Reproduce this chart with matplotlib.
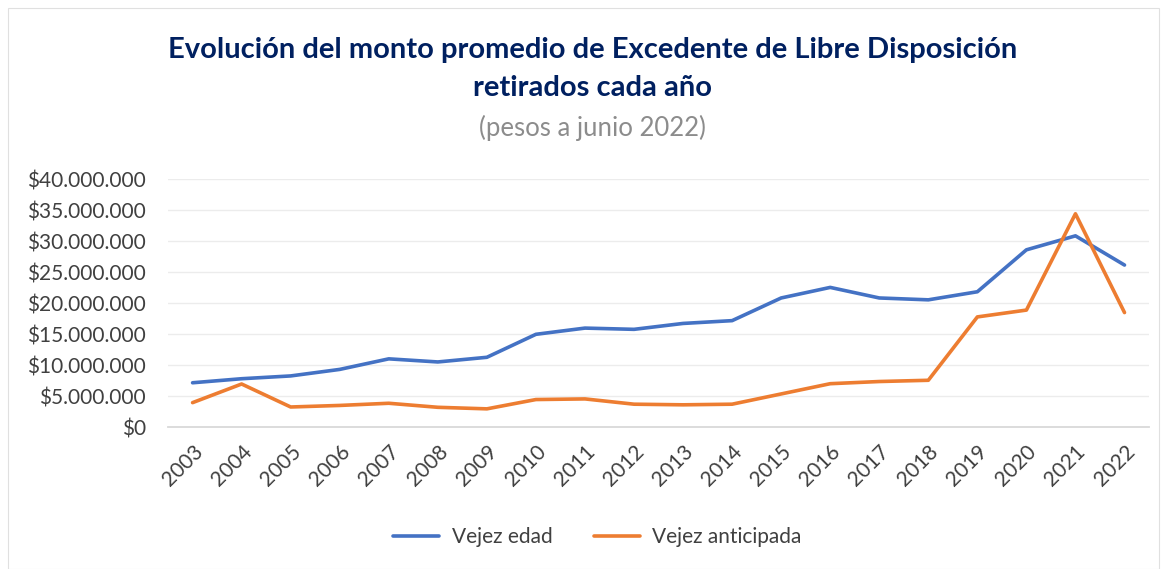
import numpy as np
import matplotlib.pyplot as plt
from matplotlib.ticker import FuncFormatter, MultipleLocator
from matplotlib.patches import Rectangle

plt.rcParams['font.family'] = ['Lato', 'DejaVu Sans']

# Data
years = ['2003', '2004', '2005', '2006', '2007', '2008', '2009', '2010', '2011', '2012',
         '2013', '2014', '2015', '2016', '2017', '2018', '2019', '2020', '2021', '2022']
vejez_edad = [7.2, 7.85, 8.3, 9.35, 11.05, 10.55, 11.3, 15.0, 16.0, 15.8,
              16.75, 17.2, 20.85, 22.55, 20.85, 20.55, 21.85, 28.6, 30.85, 26.15]
vejez_anticipada = [4.0, 7.0, 3.3, 3.55, 3.9, 3.25, 3.0, 4.5, 4.6, 3.75,
                    3.65, 3.75, 5.4, 7.05, 7.4, 7.6, 17.8, 18.9, 34.4, 18.5]
edad = np.array(vejez_edad) * 1e6
anticipada = np.array(vejez_anticipada) * 1e6

fig = plt.figure(figsize=(11.67, 5.69), dpi=100)
ax = fig.add_axes([0.144, 0.2487, 0.8406, 0.4367])

x = np.arange(len(years))
ax.plot(x, edad, color='#4472C4', lw=2.6, label='Vejez edad', solid_capstyle='round')
ax.plot(x, anticipada, color='#ED7D31', lw=2.6, label='Vejez anticipada', solid_capstyle='round')

ax.set_xlim(-0.5, len(years) - 0.5)
ax.set_ylim(0, 40e6)
ax.yaxis.set_major_locator(MultipleLocator(5e6))
ax.yaxis.set_major_formatter(FuncFormatter(lambda v, p: '$' + f'{v:,.0f}'.replace(',', '.')))
ax.set_xticks(x)
ax.set_xticklabels(years, rotation=45, ha='right', rotation_mode='anchor')

ax.grid(axis='y', color='#ececec', lw=1)
ax.set_axisbelow(True)
for s in ['top', 'right', 'left']:
    ax.spines[s].set_visible(False)
ax.spines['bottom'].set_color('#d9d9d9')
ax.spines['bottom'].set_linewidth(1.3)
ax.tick_params(axis='both', length=0, labelsize=15, colors='#404040')
ax.tick_params(axis='y', pad=16)
ax.tick_params(axis='x', pad=10)

# Titles
fig.text(0.508, 0.912, 'Evolución del monto promedio de Excedente de Libre Disposición',
         ha='center', va='center', fontsize=21, fontweight='bold', color='#002060')
fig.text(0.508, 0.845, 'retirados cada año',
         ha='center', va='center', fontsize=21, fontweight='bold', color='#002060')
fig.text(0.508, 0.775, '(pesos a junio 2022)',
         ha='center', va='center', fontsize=18.5, color='#8c8c8c')

fig.legend(loc='center', bbox_to_anchor=(0.512, 0.056), ncol=2, frameon=False,
           fontsize=15, handlelength=2.2, handletextpad=0.6, columnspacing=2.0,
           labelcolor='#404040')

fig.patches.append(Rectangle((8 / 1167, 0), 1151 / 1167, 561 / 569, transform=fig.transFigure,
                             fill=False, edgecolor='#e0e0e0', lw=0.8))

fig.savefig('out.png', dpi=100, facecolor='white')
